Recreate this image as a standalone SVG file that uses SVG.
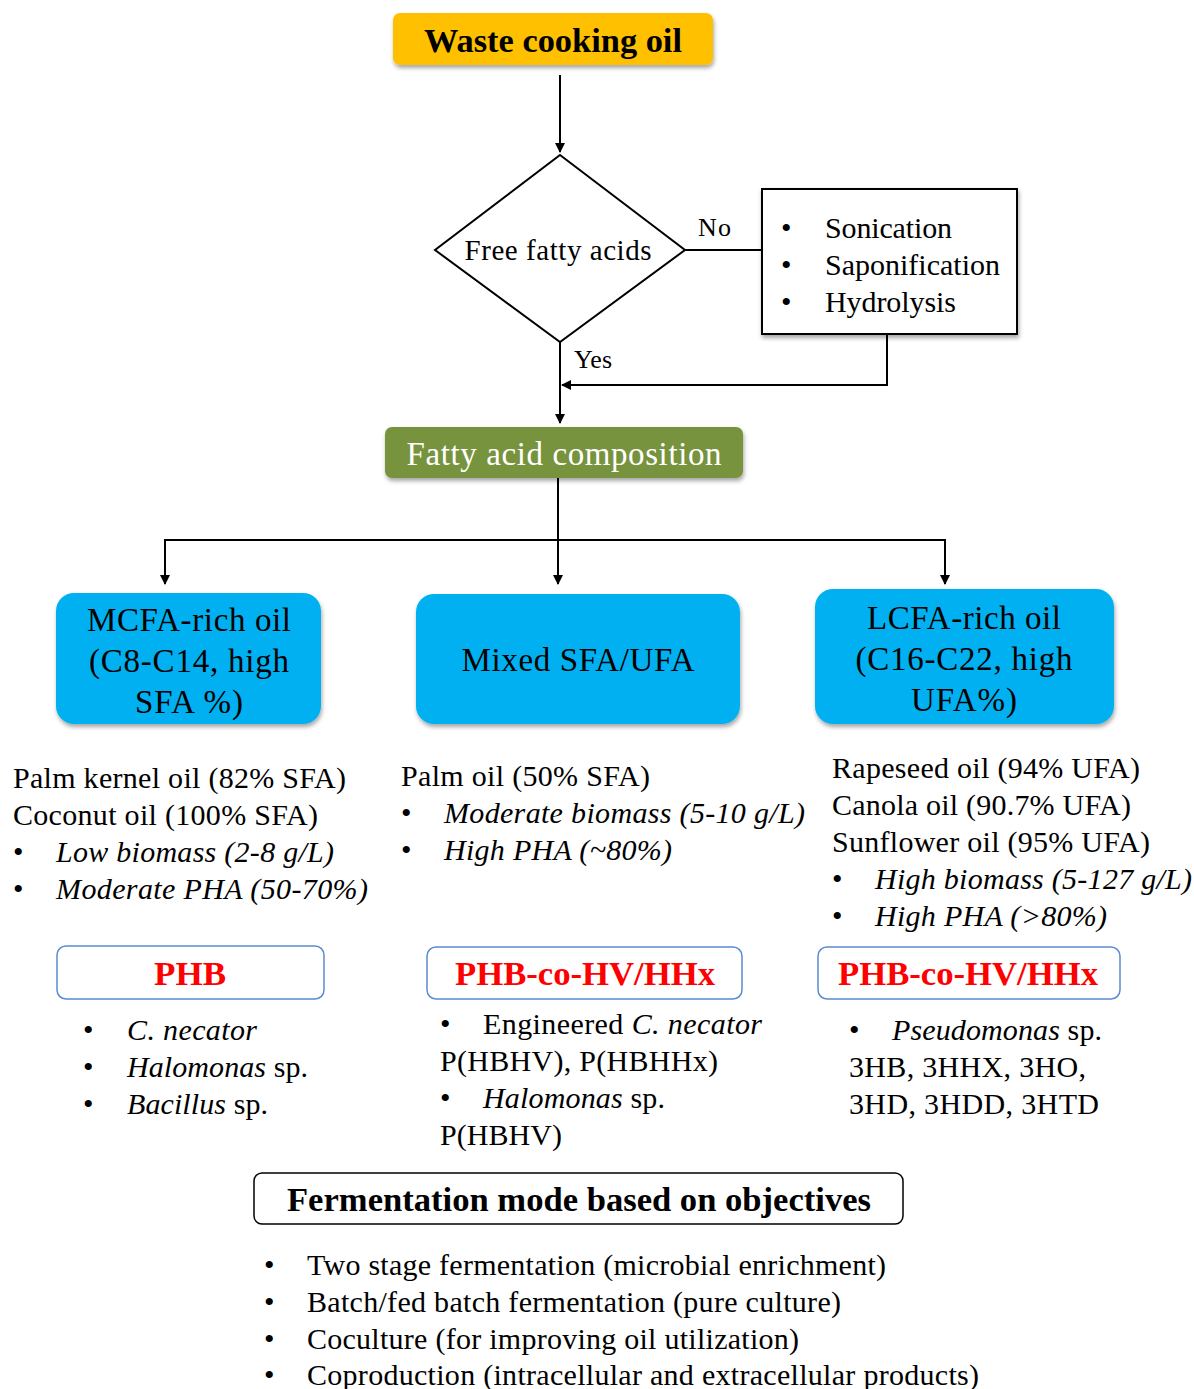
<svg xmlns="http://www.w3.org/2000/svg" width="1194" height="1389" viewBox="0 0 1194 1389">
<defs>
<filter id="sh" x="-10%" y="-10%" width="120%" height="130%">
<feDropShadow dx="1" dy="3" stdDeviation="2" flood-color="#000" flood-opacity="0.35"/>
</filter>
<marker id="ah" markerWidth="10" markerHeight="10" refX="9" refY="5" orient="auto" markerUnits="userSpaceOnUse">
<path d="M0,0 L10,5 L0,10 Z" fill="#000"/>
</marker>
</defs>
<style>
text{font-family:"Liberation Serif","Times New Roman",serif;fill:#000;}
.t{font-size:30px;}
.i{font-style:italic;}
.c{text-anchor:middle;}
.b{font-weight:bold;}
.blue{fill:#00B0F0;filter:url(#sh);}
.h{font-size:33px;}
.red{fill:#FF0000;font-weight:bold;font-size:33px;text-anchor:middle;}
.pbox{fill:#fff;stroke:#5B8BD0;stroke-width:1.5;}
.ln{fill:none;stroke:#000;stroke-width:2;}
</style>

<g id="connectors">
<path class="ln" d="M560,75 V152" marker-end="url(#ah)"/>
<path class="ln" d="M685,250 H762"/>
<path class="ln" d="M887,334 V385 H562" marker-end="url(#ah)"/>
<path class="ln" d="M560,342 V423" marker-end="url(#ah)"/>
<path class="ln" d="M558,478 V584" marker-end="url(#ah)"/>
<path class="ln" d="M165,584 V540 H945 V584" marker-end="url(#ah)"/>
<path d="M160,575 L165,585 L170,575 Z" fill="#000"/>
</g>

<g id="waste">
<rect x="393" y="13" width="320" height="52" rx="7" fill="#FFC000" filter="url(#sh)"/>
<text x="553" y="52" class="c b" font-size="33" textLength="258" lengthAdjust="spacingAndGlyphs">Waste cooking oil</text>
</g>

<g id="decision">
<polygon points="560,155 685,250 560,342 435,250" fill="#fff" stroke="#000" stroke-width="2"/>
<text x="558" y="260" class="c" font-size="29" textLength="187">Free fatty acids</text>
<text x="698" y="236" font-size="26" textLength="33">No</text>
<text x="574" y="368" font-size="26" textLength="38">Yes</text>
</g>

<g id="pretreat">
<rect x="762" y="189" width="255" height="145" fill="#fff" stroke="#000" stroke-width="2" filter="url(#sh)"/>
<text class="t" x="781" y="238">•</text><text class="t" x="825" y="238" textLength="127">Sonication</text>
<text class="t" x="781" y="275">•</text><text class="t" x="825" y="275" textLength="175">Saponification</text>
<text class="t" x="781" y="312">•</text><text class="t" x="825" y="312" textLength="131">Hydrolysis</text>
</g>

<g id="fac">
<rect x="385" y="427" width="358" height="51" rx="7" fill="#77933C" filter="url(#sh)"/>
<text x="564" y="465" class="c h" style="fill:#fff" textLength="315">Fatty acid composition</text>
</g>

<g id="mcfa">
<rect class="blue" x="56" y="593" width="265" height="131" rx="18"/>
<text class="c h" x="189" y="631" textLength="204">MCFA-rich oil</text>
<text class="c h" x="189" y="672" textLength="200">(C8-C14, high</text>
<text class="c h" x="189" y="713" textLength="108">SFA %)</text>
</g>

<g id="mixed">
<rect class="blue" x="416" y="594" width="324" height="130" rx="18"/>
<text class="c h" x="578" y="671" textLength="233">Mixed SFA/UFA</text>
</g>

<g id="lcfa">
<rect class="blue" x="815" y="589" width="299" height="135" rx="18"/>
<text class="c h" x="964" y="629" textLength="194">LCFA-rich oil</text>
<text class="c h" x="964" y="670" textLength="217">(C16-C22, high</text>
<text class="c h" x="964" y="711" textLength="106">UFA%)</text>
</g>

<g id="mcfa-info">
<text class="t" x="13" y="788" textLength="333">Palm kernel oil (82% SFA)</text>
<text class="t" x="13" y="825" textLength="305">Coconut oil (100% SFA)</text>
<text class="t" x="13" y="862">•</text><text class="t i" x="56" y="862" textLength="278">Low biomass (2-8 g/L)</text>
<text class="t" x="13" y="899">•</text><text class="t i" x="56" y="899" textLength="312">Moderate PHA (50-70%)</text>
</g>

<g id="mixed-info">
<text class="t" x="401" y="786" textLength="249">Palm oil (50% SFA)</text>
<text class="t" x="401" y="823">•</text><text class="t i" x="444" y="823" textLength="361">Moderate biomass (5-10 g/L)</text>
<text class="t" x="401" y="860">•</text><text class="t i" x="444" y="860" textLength="228">High PHA (~80%)</text>
</g>

<g id="lcfa-info">
<text class="t" x="832" y="778" textLength="308">Rapeseed oil (94% UFA)</text>
<text class="t" x="832" y="815" textLength="299">Canola oil (90.7% UFA)</text>
<text class="t" x="832" y="852" textLength="318">Sunflower oil (95% UFA)</text>
<text class="t" x="832" y="889">•</text><text class="t i" x="875" y="889" textLength="317">High biomass (5-127 g/L)</text>
<text class="t" x="832" y="926">•</text><text class="t i" x="875" y="926" textLength="232">High PHA (&gt;80%)</text>
</g>

<g id="phb">
<rect class="pbox" x="57" y="946" width="267" height="53" rx="9"/>
<text class="red" x="190" y="985" textLength="72" lengthAdjust="spacingAndGlyphs">PHB</text>
</g>
<g id="phb-co-1">
<rect class="pbox" x="427" y="947" width="315" height="52" rx="9"/>
<text class="red" x="585" y="985" textLength="260" lengthAdjust="spacingAndGlyphs">PHB-co-HV/HHx</text>
</g>
<g id="phb-co-2">
<rect class="pbox" x="818" y="947" width="302" height="52" rx="9"/>
<text class="red" x="968" y="985" textLength="260" lengthAdjust="spacingAndGlyphs">PHB-co-HV/HHx</text>
</g>

<g id="phb-org">
<text class="t" x="83" y="1040">•</text><text class="t i" x="127" y="1040" textLength="130">C. necator</text>
<text class="t" x="83" y="1077">•</text><text class="t" x="127" y="1077" textLength="181"><tspan class="i">Halomonas</tspan> sp.</text>
<text class="t" x="83" y="1114">•</text><text class="t" x="127" y="1114" textLength="141"><tspan class="i">Bacillus</tspan> sp.</text>
</g>

<g id="phbco1-org">
<text class="t" x="440" y="1034">•</text><text class="t" x="483" y="1034" textLength="279">Engineered <tspan class="i">C. necator</tspan></text>
<text class="t" x="440" y="1071" textLength="278">P(HBHV), P(HBHHx)</text>
<text class="t" x="440" y="1108">•</text><text class="t" x="483" y="1108" textLength="182"><tspan class="i">Halomonas</tspan> sp.</text>
<text class="t" x="440" y="1145" textLength="122">P(HBHV)</text>
</g>

<g id="phbco2-org">
<text class="t" x="849" y="1040">•</text><text class="t" x="892" y="1040" textLength="210"><tspan class="i">Pseudomonas</tspan> sp.</text>
<text class="t" x="849" y="1077" textLength="237">3HB, 3HHX, 3HO,</text>
<text class="t" x="849" y="1114" textLength="250">3HD, 3HDD, 3HTD</text>
</g>

<g id="ferm">
<rect x="254" y="1173" width="649" height="51" rx="8" fill="#fff" stroke="#000" stroke-width="1.5"/>
<text class="c b" x="579" y="1211" font-size="33" textLength="584" lengthAdjust="spacingAndGlyphs">Fermentation mode based on objectives</text>
</g>

<g id="ferm-list">
<text class="t" x="264" y="1275">•</text><text class="t" x="307" y="1275" textLength="579">Two stage fermentation (microbial enrichment)</text>
<text class="t" x="264" y="1312">•</text><text class="t" x="307" y="1312" textLength="534">Batch/fed batch fermentation (pure culture)</text>
<text class="t" x="264" y="1349">•</text><text class="t" x="307" y="1349" textLength="492">Coculture (for improving oil utilization)</text>
<text class="t" x="264" y="1385">•</text><text class="t" x="307" y="1385" textLength="672">Coproduction (intracellular and extracellular products)</text>
</g>
</svg>
